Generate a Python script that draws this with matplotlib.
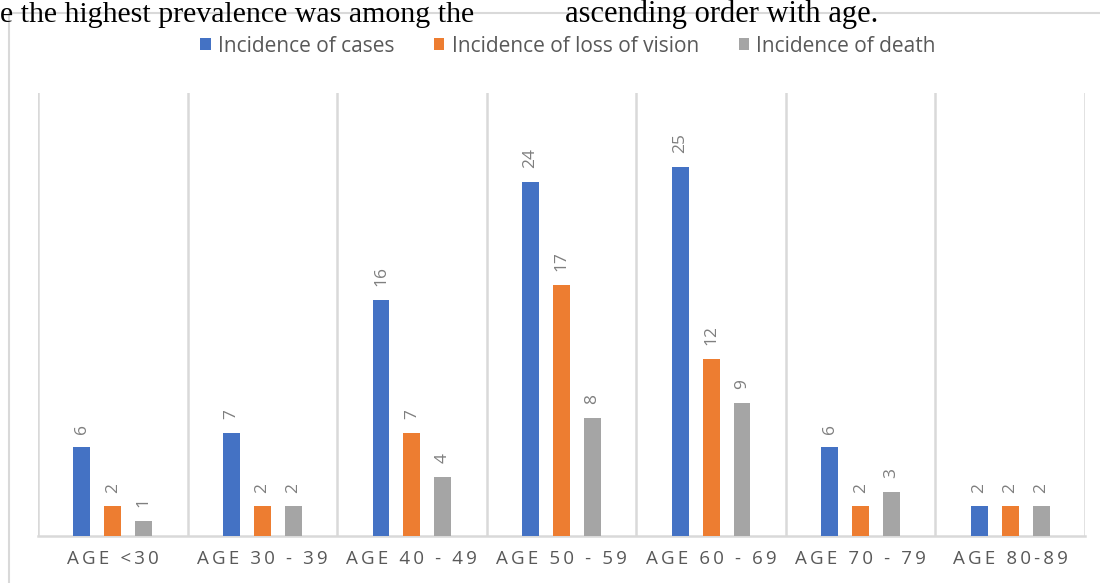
import numpy as np
import matplotlib
matplotlib.use('Agg')
import matplotlib.pyplot as plt
from matplotlib.lines import Line2D

categories = ['AGE <30', 'AGE 30 - 39', 'AGE 40 - 49', 'AGE 50 - 59',
              'AGE 60 - 69', 'AGE 70 - 79', 'AGE 80-89']
cases = [6, 7, 16, 24, 25, 6, 2]
vision_loss = [2, 2, 7, 17, 12, 2, 2]
deaths = [1, 2, 4, 8, 9, 3, 2]

series = [
    ('Incidence of cases', cases, '#4472C4'),
    ('Incidence of loss of vision', vision_loss, '#ED7D31'),
    ('Incidence of death', deaths, '#A5A5A5'),
]

grid_color = '#D9D9D9'
text_color = '#595959'

plt.rcParams['font.family'] = ['Open Sans', 'DejaVu Sans']

fig = plt.figure(figsize=(11, 5.83), dpi=100)
ax = fig.add_axes([38 / 1100, 47 / 583, 1047 / 1100, 443 / 583])

x = np.arange(len(categories))
width = 0.113
offsets = [-0.207, 0.0, 0.207]

for (name, vals, color), off in zip(series, offsets):
    bars = ax.bar(x + off, vals, width, color=color, label=name, zorder=3)
    for b, v in zip(bars, vals):
        ax.annotate(str(v), (b.get_x() + b.get_width() / 2, v),
                    xytext=(0, 10), textcoords='offset points',
                    ha='center', va='bottom', rotation=90,
                    fontsize=12.5, color='#7F7F7F')

ax.set_xlim(-0.5, len(categories) - 0.5)
ax.set_ylim(0, 30)
for b in np.arange(-0.5, len(categories), 1.0):
    ax.axvline(b, color=grid_color, lw=1.8, zorder=1)

for s in ['top', 'left', 'right']:
    ax.spines[s].set_visible(False)
ax.spines['bottom'].set_color(grid_color)
ax.spines['bottom'].set_linewidth(1.8)
ax.set_yticks([])

# Excel-style letter spacing on category labels
spaced = ['\u2009'.join(c) for c in categories]
ax.set_xticks(x)
ax.set_xticklabels(spaced, fontsize=13.5, color=text_color)
ax.tick_params(axis='x', length=0, pad=10)

ax.legend(loc='center', bbox_to_anchor=(568 / 1100, 537 / 583),
          bbox_transform=fig.transFigure, ncol=3, frameon=False,
          fontsize=15, labelcolor=text_color, handlelength=0.5,
          handleheight=0.5, handletextpad=0.35, columnspacing=1.9)

# chart area border (partly cropped) and surrounding document text
fig.add_artist(Line2D([9 / 1100, 9 / 1100], [0, 570 / 583],
                      transform=fig.transFigure, color=grid_color, lw=1.5))
fig.add_artist(Line2D([9 / 1100, 1], [570 / 583, 570 / 583],
                      transform=fig.transFigure, color=grid_color, lw=1.5))

fig.text(0, 561 / 583, 'e the highest prevalence was among the',
         family='Liberation Serif', fontsize=21.5, color='black',
         ha='left', va='baseline')
fig.text(565 / 1100, 561 / 583, 'ascending order with age.',
         family='Liberation Serif', fontsize=22, color='black',
         ha='left', va='baseline')

fig.savefig('out.png', dpi=100)
